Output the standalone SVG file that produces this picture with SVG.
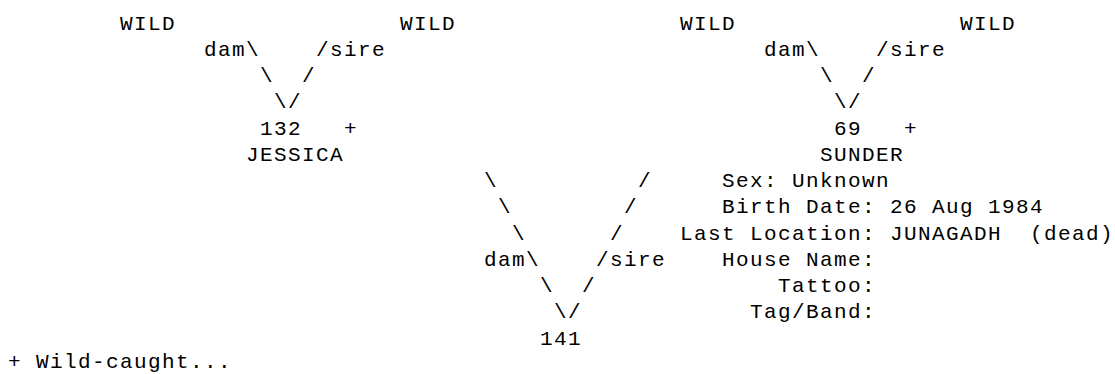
<svg xmlns="http://www.w3.org/2000/svg" width="1115" height="374" viewBox="0 0 1115 374">
<style>
text{font-family:"Liberation Mono","DejaVu Sans Mono",monospace;font-size:21px;letter-spacing:1.4px;fill:#000;white-space:pre}
</style>
<rect width="1115" height="374" fill="#fff"/>
<g id="connectors">
<text x="204" y="55.75">dam\</text><text x="316" y="55.75">/sire</text>
<text x="260" y="82">\</text><text x="302" y="82">/</text>
<text x="274" y="108.25">\/</text>
<text x="764" y="55.75">dam\</text><text x="876" y="55.75">/sire</text>
<text x="820" y="82">\</text><text x="862" y="82">/</text>
<text x="834" y="108.25">\/</text>
<text x="484" y="187">\</text><text x="638" y="187">/</text>
<text x="498" y="213.25">\</text><text x="624" y="213.25">/</text>
<text x="512" y="239.5">\</text><text x="610" y="239.5">/</text>
<text x="484" y="265.75">dam\</text><text x="596" y="265.75">/sire</text>
<text x="540" y="292">\</text><text x="582" y="292">/</text>
<text x="554" y="318.25">\/</text>
</g>
<g id="wild1"><text x="120" y="29.5">WILD</text></g>
<g id="wild2"><text x="400" y="29.5">WILD</text></g>
<g id="wild3"><text x="680" y="29.5">WILD</text></g>
<g id="wild4"><text x="960" y="29.5">WILD</text></g>
<g id="node132"><text x="260" y="134.5">132</text><text x="344" y="134.5">+</text><text x="246" y="160.75">JESSICA</text></g>
<g id="node69"><text x="834" y="134.5">69</text><text x="904" y="134.5">+</text><text x="820" y="160.75">SUNDER</text>
<text x="722" y="187">Sex: Unknown</text>
<text x="722" y="213.25">Birth Date: 26 Aug 1984</text>
<text x="680" y="239.5" xml:space="preserve">Last Location: JUNAGADH  (dead)</text>
<text x="722" y="265.75">House Name:</text>
<text x="778" y="292">Tattoo:</text>
<text x="750" y="318.25">Tag/Band:</text>
</g>
<g id="node141"><text x="540" y="344.5">141</text></g>
<g id="legend"><text x="8" y="368">+ Wild-caught...</text></g>
</svg>
